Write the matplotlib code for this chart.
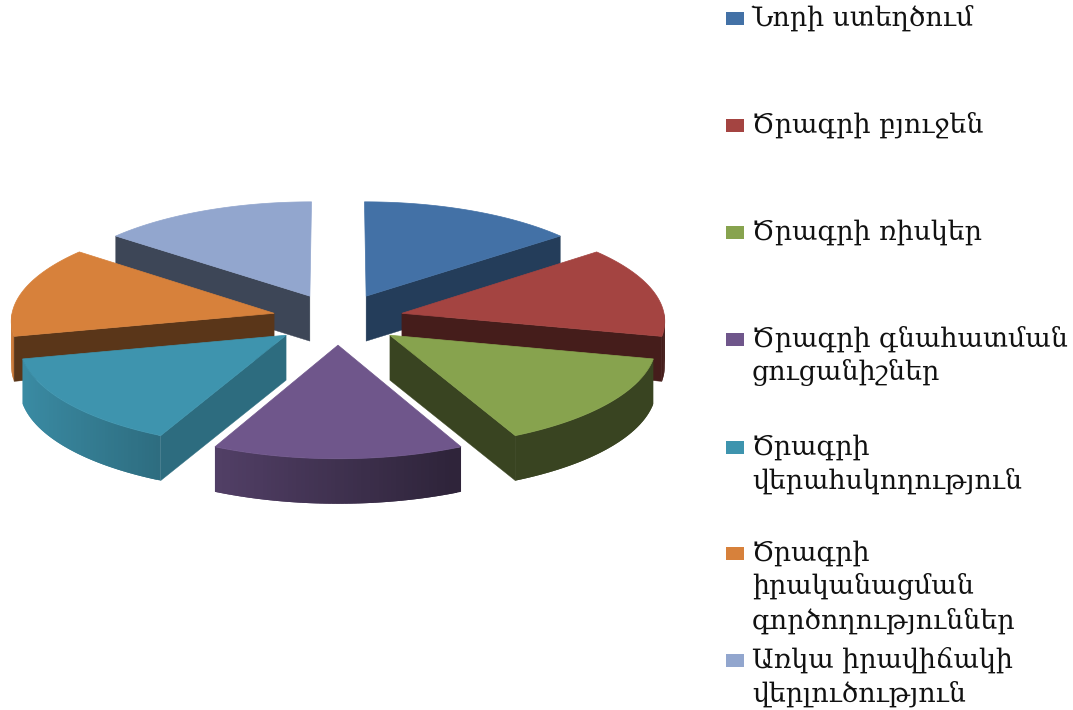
import numpy as np
import matplotlib
matplotlib.use("Agg")
import matplotlib.pyplot as plt
from matplotlib.colors import to_rgb
from matplotlib.patches import Polygon, Rectangle

labels = ["Նորի ստեղծում", "Ծրագրի բյուջեն", "Ծրագրի ռիսկեր",
          "Ծրագրի գնահատման\nցուցանիշներ", "Ծրագրի\nվերահսկողություն",
          "Ծրագրի\nիրականացման\nգործողություններ",
          "Առկա իրավիճակի\nվերլուծություն"]
values = [1, 1, 1, 1, 1, 1, 1]
colors = ["#4371A6", "#A44441", "#87A34E", "#6F568B", "#3E94AE", "#D7813B", "#92A6CE"]
wall_shade = [0.54, 0.42, 0.42, 0.5, 0.73, 0.42, 0.42]
legend_y = [18, 125, 232, 339, 447, 553, 660]

# pie geometry in pixels
CX, CY = 338, 319
A, B, K = 263, 103, 0.063
EXPLODE = 0.25
DEPTH = 45
LINE_PITCH = 34


def project(x, y):
    w = 1 + K * y
    return CX + A * x / w, CY - B * y / w


def shade(color, f):
    return tuple(c * f for c in to_rgb(color))


fig = plt.figure(figsize=(10.73, 7.10), dpi=100)
ax = fig.add_axes([0, 0, 1, 1])
ax.set_xlim(0, 1073)
ax.set_ylim(710, 0)
ax.axis("off")

edges = np.radians(np.cumsum([0] + values) / sum(values) * 360)
mids = (edges[:-1] + edges[1:]) / 2

# back slices first so the front ones cover them
for i in np.argsort(-np.cos(mids)):
    t0, t1, mid = edges[i], edges[i + 1], mids[i]
    ox, oy = EXPLODE * np.sin(mid), EXPLODE * np.cos(mid)
    theta = np.linspace(t0, t1, 60)
    xs, ys = project(ox + np.sin(theta), oy + np.cos(theta))
    tx, ty = project(ox, oy)
    wall = shade(colors[i], wall_shade[i])

    # outer rim, darker towards the right; each strip runs under the next one
    visible = np.where(np.cos((theta[:-1] + theta[1:]) / 2) < 0)[0]
    for j in visible:
        tm = (theta[j] + theta[j + 1]) / 2
        f = np.clip(0.57 - 0.38 * np.sin(tm), 0.42, 0.95)
        k = min(j + 2, visible[-1] + 1)
        ax.add_patch(Polygon([(xs[j], ys[j]), (xs[k], ys[k]),
                              (xs[k], ys[k] + DEPTH), (xs[j], ys[j] + DEPTH)],
                             fc=shade(colors[i], f), ec="none"))

    # cut walls facing the viewer
    if np.sin(t0) < -1e-6:
        ax.add_patch(Polygon([(tx, ty), (xs[0], ys[0]), (xs[0], ys[0] + DEPTH), (tx, ty + DEPTH)],
                             fc=wall, ec=wall, lw=0.3))
    if np.sin(t1) > 1e-6:
        ax.add_patch(Polygon([(tx, ty), (xs[-1], ys[-1]), (xs[-1], ys[-1] + DEPTH), (tx, ty + DEPTH)],
                             fc=wall, ec=wall, lw=0.3))

    top = np.column_stack([np.r_[tx, xs], np.r_[ty, ys]])
    ax.add_patch(Polygon(top, fc=colors[i], ec=colors[i], lw=0.5))

# legend
for lab, col, y in zip(labels, colors, legend_y):
    ax.add_patch(Rectangle((726, y - 6.5), 18, 13, fc=col, ec="none"))
    for n, line in enumerate(lab.split("\n")):
        ax.text(752, y + 7.5 + n * LINE_PITCH, line, family="DejaVu Serif", fontsize=19.4,
                color="#111111", va="baseline", ha="left")

fig.savefig("out.png", dpi=100)
